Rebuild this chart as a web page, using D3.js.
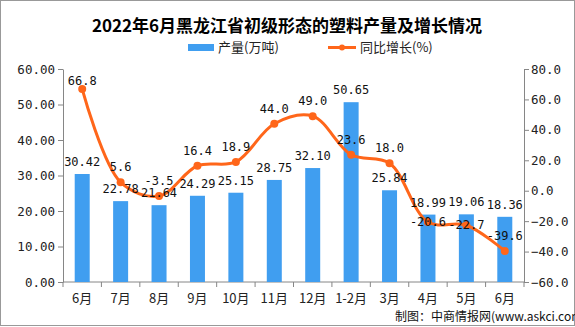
<!DOCTYPE html>
<html><head><meta charset="utf-8">
<script src="https://cdn.jsdelivr.net/npm/d3@7"></script>
<style>body{margin:0;background:#fff}svg{display:block}</style>
</head><body><svg id="c" width="575" height="327"></svg>
<script>
const categories = ["6月","7月","8月","9月","10月","11月","12月","1-2月","3月","4月","5月","6月"];
const production = [30.42,22.78,21.64,24.29,25.15,28.75,32.10,50.65,25.84,18.99,19.06,18.36];
const growth = [66.8,5.6,-3.5,16.4,18.9,44.0,49.0,23.6,18.0,-20.6,-22.7,-39.6];
const leftTicks = [0,10,20,30,40,50,60];
const rightTicks = [-60,-40,-20,0,20,40,60,80];

const svg = d3.select("#c");
const W=575,H=327;
const m={l:63,r:524,t:69,b:282};
const barColor="#409ef0", lineColor="#ff661a", axisColor="#868686";
const numFont="'DejaVu Sans Mono', monospace";
const cjk="'Noto Sans CJK SC', sans-serif";

svg.append("rect").attr("x",0.5).attr("y",0.5).attr("width",W-1).attr("height",325).attr("fill","#fff").attr("stroke","#999");

const x = d3.scaleBand().domain(d3.range(categories.length)).range([m.l,m.r]).paddingInner(0);
const yL = d3.scaleLinear().domain([0,60]).range([m.b,m.t]);
const yR = d3.scaleLinear().domain([-60,80]).range([m.b,m.t]);

// title
svg.append("text").attr("x",287).attr("y",32).attr("text-anchor","middle")
  .attr("font-family",cjk).attr("font-weight","bold").attr("font-size",17).attr("fill","#000")
  .text("2022年6月黑龙江省初级形态的塑料产量及增长情况");

// legend
const lg = svg.append("g").attr("font-family",cjk).attr("font-size",13).attr("fill","#222");
lg.append("rect").attr("x",188).attr("y",44).attr("width",26).attr("height",7).attr("fill",barColor);
lg.append("text").attr("x",218).attr("y",52).text("产量(万吨)");
lg.append("line").attr("x1",328).attr("x2",356).attr("y1",47.5).attr("y2",47.5).attr("stroke",lineColor).attr("stroke-width",3);
lg.append("circle").attr("cx",342).attr("cy",47.5).attr("r",3).attr("fill",lineColor);
lg.append("text").attr("x",360).attr("y",52).text("同比增长(%)");

// axes
const axL = svg.append("g").attr("transform",`translate(${m.l},0)`)
  .call(d3.axisLeft(yL).tickValues(leftTicks).tickFormat(d3.format(".2f")).tickSize(5).tickSizeOuter(0));
const axR = svg.append("g").attr("transform",`translate(${m.r},0)`)
  .call(d3.axisRight(yR).tickValues(rightTicks).tickFormat(d3.format(".1f")).tickSize(5).tickSizeOuter(0));
[axL,axR].forEach(a=>{
  a.select(".domain").attr("stroke",axisColor);
  a.selectAll(".tick line").attr("stroke",axisColor);
  a.selectAll(".tick text").attr("font-family",numFont).attr("font-size",12.5).attr("fill","#222");
});
axL.selectAll(".tick text").attr("x",-8);
axR.selectAll(".tick text").attr("x",7);

// x axis
const gx = svg.append("g").attr("transform",`translate(0,${m.b})`);
gx.append("line").attr("x1",m.l).attr("x2",m.r).attr("stroke",axisColor);
const bounds = d3.range(categories.length+1).map(i=> i<categories.length ? x(i) : x(i-1)+x.bandwidth());
gx.selectAll(".tk").data(bounds).join("line").attr("x1",d=>d).attr("x2",d=>d).attr("y1",0).attr("y2",5).attr("stroke",axisColor);
gx.selectAll(".lb").data(categories).join("text")
  .attr("x",(d,i)=>x(i)+x.bandwidth()/2).attr("y",21).attr("text-anchor","middle")
  .attr("font-family",cjk).attr("font-size",13).attr("fill","#222").text(d=>d);

// bars
const bw=15;
svg.selectAll(".bar").data(production).join("rect")
  .attr("x",(d,i)=>x(i)+x.bandwidth()/2-bw/2).attr("width",bw)
  .attr("y",d=>yL(d)).attr("height",d=>m.b-yL(d)).attr("fill",barColor);

// line
const line = d3.line().x((d,i)=>x(i)+x.bandwidth()/2).y(d=>yR(d)).curve(d3.curveCatmullRom.alpha(0.5));
svg.append("path").datum(growth).attr("d",line).attr("fill","none").attr("stroke",lineColor).attr("stroke-width",3);
svg.selectAll(".pt").data(growth).join("circle")
  .attr("cx",(d,i)=>x(i)+x.bandwidth()/2).attr("cy",d=>yR(d)).attr("r",4).attr("fill",lineColor);

// bar labels
svg.selectAll(".bl").data(production).join("text")
  .attr("x",(d,i)=>x(i)+x.bandwidth()/2).attr("y",d=>yL(d)-8).attr("text-anchor","middle")
  .attr("font-family",numFont).attr("font-size",12).attr("fill","#111").text(d=>d.toFixed(2));

// line labels
svg.selectAll(".ll").data(growth).join("text")
  .attr("x",(d,i)=>x(i)+x.bandwidth()/2)
  .attr("y",(d,i)=>{
    let yb = yR(d)-11;
    const bb = yL(production[i])-8;
    if (Math.abs(yb-bb)<12) yb = yR(d)+4;
    return Math.max(yb, 85);
  })
  .attr("text-anchor","middle").attr("font-family",numFont).attr("font-size",12).attr("fill","#111")
  .text(d=>d.toFixed(1));

// source
svg.append("text").attr("x",395).attr("y",321).attr("font-family",cjk).attr("font-size",12).attr("fill","#111")
  .text("制图：中商情报网(www.askci.com)");
</script></body></html>
